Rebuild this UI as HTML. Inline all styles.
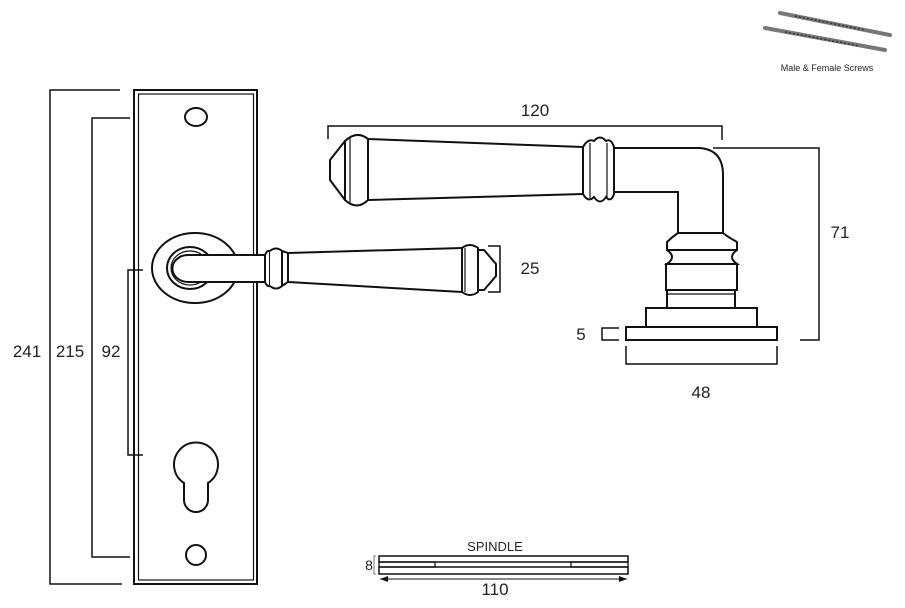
<!DOCTYPE html>
<html><head><meta charset="utf-8"><style>
html,body{margin:0;padding:0;background:#fff;width:905px;height:608px;overflow:hidden}
svg{display:block}
text{font-family:"Liberation Sans",sans-serif;fill:#222}
</style></head><body>
<svg width="905" height="608" viewBox="0 0 905 608" xmlns="http://www.w3.org/2000/svg">
<g fill="none" stroke="#111" stroke-width="2">
<!-- backplate -->
<rect x="134" y="90" width="123" height="494"/>
<rect x="138.5" y="94" width="115" height="486" stroke-width="1.2"/>
<ellipse cx="196" cy="117" rx="11" ry="9"/>
<ellipse cx="196" cy="555" rx="10" ry="10"/>
<path d="M184,483 A22,22 0 1 1 208,483 L208,500 A12,12 0 0 1 184,500 Z"/>
<!-- rose -->
<ellipse cx="195" cy="268" rx="43" ry="35" fill="#fff"/>
<ellipse cx="190" cy="268" rx="23" ry="21"/>
<ellipse cx="190" cy="268" rx="19" ry="17" stroke-width="1.2"/>
<!-- lower lever -->
<path d="M265,255 L188,255 A15,13 0 0 0 188,282 L265,282" fill="#fff"/>
<path d="M265,255 L265,282 M270,251 L270,286 M265,255 Q267,250 270,251 M265,282 Q267,287 270,286" />
<path d="M270,251 Q276,246 282,251 L282,286 Q276,291 270,286 M282,251 L288,253 L288,282 L282,286" fill="#fff"/>
<path d="M288,253 L462,248 M288,282 L462,292"/>
<path d="M462,248 Q470,242 478,248 L478,292 Q470,298 462,292 Z" fill="#fff"/>
<line x1="465" y1="248" x2="465" y2="292" stroke-width="1.2"/>
<path d="M478,250 L484,250 L496,264 L496,276 L484,290 L478,290"/>
<path d="M488,246 L500,246 L500,292 L488,292" stroke-width="1.5"/>
<!-- top lever -->
<path d="M328,139 L328,126 L722,126 L722,140" stroke-width="1.5"/>
<path d="M345,141 L330,160 L330,180 L345,200"/>
<path d="M345,141 Q357,130 368,139 L368,200 Q357,211 345,200 Z"/>
<line x1="350" y1="138" x2="350" y2="203" stroke-width="1.2"/>
<path d="M368,139 L583,147 M368,200 L583,194"/>
<path d="M583,147 Q588,138 594,141 Q600,134 606,141 Q611,138 614,147 L614,194 Q611,203 606,197 Q600,206 594,197 Q588,203 583,194 Z"/>
<line x1="590" y1="143" x2="590" y2="198" stroke-width="1.2"/>
<line x1="607" y1="143" x2="607" y2="198" stroke-width="1.2"/>
<path d="M614,148 L700,148 Q723,150 723,175 L723,233 M614,192 L678,192 L678,233"/>
<path d="M678,233 Q672,237 667,242 L667,250 L737,250 L737,242 Q728,237 723,233 Z"/>
<path d="M667,250 Q677,257 667,264 L737,264 Q727,257 737,250"/>
<rect x="666" y="264" width="71" height="26"/>
<rect x="667" y="290" width="68" height="18"/>
<line x1="667" y1="294" x2="735" y2="294" stroke-width="1.2"/>
<rect x="646" y="308" width="111" height="19"/>
<rect x="626" y="327" width="151" height="13"/>
<!-- dims right -->
<path d="M619,328 L602,328 L602,340 L619,340" stroke-width="1.5"/>
<path d="M626,346 L626,364 L777,364 L777,346" stroke-width="1.5"/>
<path d="M713,148 L819,148 L819,340 L800,340" stroke-width="1.5"/>
<!-- left dims -->
<path d="M120,90 L50,90 L50,584 L122,584" stroke-width="1.5"/>
<path d="M130,118 L92,118 L92,557 L130,557" stroke-width="1.5"/>
<path d="M143,270 L128,270 L128,455 L143,455" stroke-width="1.5"/>
<!-- spindle -->
<rect x="379" y="556" width="249" height="6" stroke-width="1.5"/>
<rect x="379" y="567" width="249" height="7" stroke-width="1.5"/>
<rect x="379" y="562" width="56" height="5" stroke-width="1.3"/>
<rect x="571" y="562" width="57" height="5" stroke-width="1.3"/>
<path d="M376,556 L374,556 L374,574 L376,574" stroke-width="1" stroke="#777"/>
<line x1="380" y1="579" x2="627" y2="579" stroke-width="1"/>
<path d="M380,579 L388,576 L388,582 Z M627,579 L619,576 L619,582 Z" fill="#111" stroke="none"/>
<!-- screws -->
<g stroke="#777" stroke-width="4" stroke-linecap="round">
<line x1="780" y1="13" x2="890" y2="35"/>
<line x1="765" y1="28" x2="885" y2="50"/>
</g>
<g stroke="#333" stroke-width="1.5" stroke-dasharray="2,2">
<line x1="795" y1="16" x2="865" y2="30"/>
<line x1="785" y1="32" x2="860" y2="46"/>
</g>
</g>
<g font-size="17">
<text x="535" y="116" text-anchor="middle">120</text>
<text x="530" y="274" text-anchor="middle">25</text>
<text x="840" y="238" text-anchor="middle">71</text>
<text x="581" y="340" text-anchor="middle">5</text>
<text x="701" y="398" text-anchor="middle">48</text>
<text x="27" y="357" text-anchor="middle">241</text>
<text x="70" y="357" text-anchor="middle">215</text>
<text x="111" y="357" text-anchor="middle">92</text>
<text x="369" y="570" text-anchor="middle" font-size="14">8</text>
<text x="495" y="595" text-anchor="middle">110</text>
<text x="495" y="551" text-anchor="middle" font-size="13">SPINDLE</text>
</g>
<text x="827" y="71" text-anchor="middle" font-size="9">Male &amp; Female Screws</text>
</svg>
</body></html>
